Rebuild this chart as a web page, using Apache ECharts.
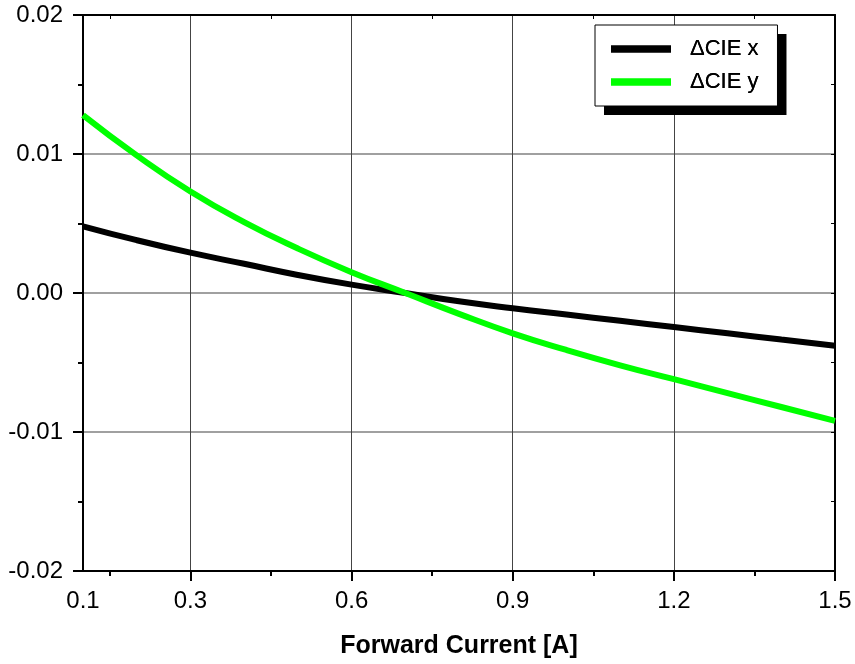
<!DOCTYPE html>
<html>
<head>
<meta charset="utf-8">
<title>Chromaticity shift vs forward current</title>
<script src="https://cdn.jsdelivr.net/npm/echarts@6/dist/echarts.min.js"></script>
<style>
  html, body { margin: 0; padding: 0; background: #fff; }
  #main { width: 855px; height: 664px; }
</style>
</head>
<body>
<div id="main"></div>
<script>
// values
var current = [0.1, 0.2, 0.3, 0.4, 0.5, 0.6, 0.7, 0.8, 0.9, 1.0, 1.1, 1.2, 1.3, 1.4, 1.5];
var deltaCieX = [0.0048, 0.0038, 0.0029, 0.0021, 0.0013, 0.0006, 0.0000, -0.0006, -0.0011, -0.00155, -0.0020, -0.00245, -0.0029, -0.00335, -0.0038];
var deltaCieY = [0.0128, 0.0099, 0.0073, 0.0051, 0.0032, 0.0015, 0.0000, -0.0015, -0.0029, -0.0041, -0.0052, -0.0062, -0.0072, -0.0082, -0.0092];

var seriesNames = ['\u0394CIE x', '\u0394CIE y'];
var xLabelValues = [0.1, 0.3, 0.6, 0.9, 1.2, 1.5];
var xMajorTicks = [0.3, 0.6, 0.9, 1.2, 1.5];
var xMinorTicks = [0.15, 0.45, 0.75, 1.05, 1.35];

function pairs(xs, ys) {
    var out = [];
    for (var i = 0; i < xs.length; i++) out.push([xs[i], ys[i]]);
    return out;
}

var font = 'Liberation Sans, Arial, sans-serif';
var myChart = echarts.init(document.getElementById('main'));

// shared legend layout; one copy draws the hard shadow, the other the border
var legendBase = {
    orient: 'vertical',
    left: 595,
    top: 25,
    padding: [13, 19, 13, 16],
    itemGap: 11,
    itemWidth: 60,
    itemHeight: 7,
    icon: 'rect',
    selectedMode: false,
    textStyle: { fontSize: 22, color: '#000', fontFamily: font, padding: [0, 0, 0, 14] },
    data: seriesNames
};

var option = {
    animation: false,
    textStyle: { fontFamily: font },
    grid: { left: 83, right: 20, top: 15, bottom: 93, outerBoundsMode: 'none' },
    legend: [
        Object.assign({}, legendBase, {
            backgroundColor: '#fff',
            borderWidth: 0,
            shadowColor: '#000',
            shadowBlur: 0,
            shadowOffsetX: 9,
            shadowOffsetY: 9
        }),
        Object.assign({}, legendBase, {
            backgroundColor: 'transparent',
            borderColor: '#000',
            borderWidth: 1
        })
    ],
    xAxis: [
        {
            // main bottom axis
            type: 'value', position: 'bottom', min: 0.1, max: 1.5,
            name: 'Forward Current [A]', nameLocation: 'middle', nameGap: 63, nameMoveOverlap: false,
            nameTextStyle: { fontSize: 25, fontWeight: 'bold', color: '#000', fontFamily: font },
            axisLine: { onZero: false, lineStyle: { color: '#000', width: 2 } },
            axisTick: { show: true, customValues: xMajorTicks, length: 10, lineStyle: { color: '#000', width: 2 } },
            axisLabel: {
                customValues: xLabelValues, margin: 18, fontSize: 24, color: '#000', fontFamily: font,
                formatter: function (v) { return v.toFixed(1); }
            },
            splitLine: { show: true, lineStyle: { color: '#444', width: 1 } }
        },
        {
            // minor ticks bottom
            type: 'value', position: 'bottom', min: 0.1, max: 1.5,
            axisLine: { show: false, onZero: false },
            axisTick: { show: true, customValues: xMinorTicks, length: 5, lineStyle: { color: '#000', width: 2 } },
            axisLabel: { show: false },
            splitLine: { show: false }
        },
        {
            // top frame
            type: 'value', position: 'top', min: 0.1, max: 1.5,
            axisLine: { onZero: false, lineStyle: { color: '#000', width: 2 } },
            axisTick: { show: true, inside: true, customValues: xMinorTicks, length: 4, lineStyle: { color: '#000', width: 1 } },
            axisLabel: { show: false },
            splitLine: { show: false }
        }
    ],
    yAxis: [
        {
            type: 'value', position: 'left', min: -0.02, max: 0.02, interval: 0.01,
            axisLine: { show: true, onZero: false, lineStyle: { color: '#000', width: 2 } },
            axisTick: { show: true, length: 10, lineStyle: { color: '#000', width: 2 } },
            minorTick: { show: true, splitNumber: 2, length: 5, lineStyle: { color: '#000', width: 2 } },
            axisLabel: {
                margin: 20, fontSize: 24, color: '#000', fontFamily: font,
                formatter: function (v) { return v.toFixed(2); }
            },
            splitLine: { show: true, lineStyle: { color: '#808080', width: 1.5 } }
        },
        {
            // right frame
            type: 'value', position: 'right', min: -0.02, max: 0.02, interval: 0.01,
            axisLine: { show: true, onZero: false, lineStyle: { color: '#000', width: 2 } },
            axisTick: { show: true, inside: true, length: 4, lineStyle: { color: '#000', width: 1 } },
            minorTick: { show: true, splitNumber: 2, length: 4, lineStyle: { color: '#000', width: 1 } },
            axisLabel: { show: false },
            splitLine: { show: false }
        }
    ],
    series: [
        {
            name: seriesNames[0],
            type: 'line',
            smooth: true,
            showSymbol: false,
            itemStyle: { color: '#000000' },
            lineStyle: { color: '#000000', width: 6 },
            data: pairs(current, deltaCieX)
        },
        {
            name: seriesNames[1],
            type: 'line',
            smooth: true,
            showSymbol: false,
            itemStyle: { color: '#00ff00' },
            lineStyle: { color: '#00ff00', width: 6 },
            data: pairs(current, deltaCieY)
        }
    ]
};

myChart.setOption(option);
</script>
</body>
</html>
